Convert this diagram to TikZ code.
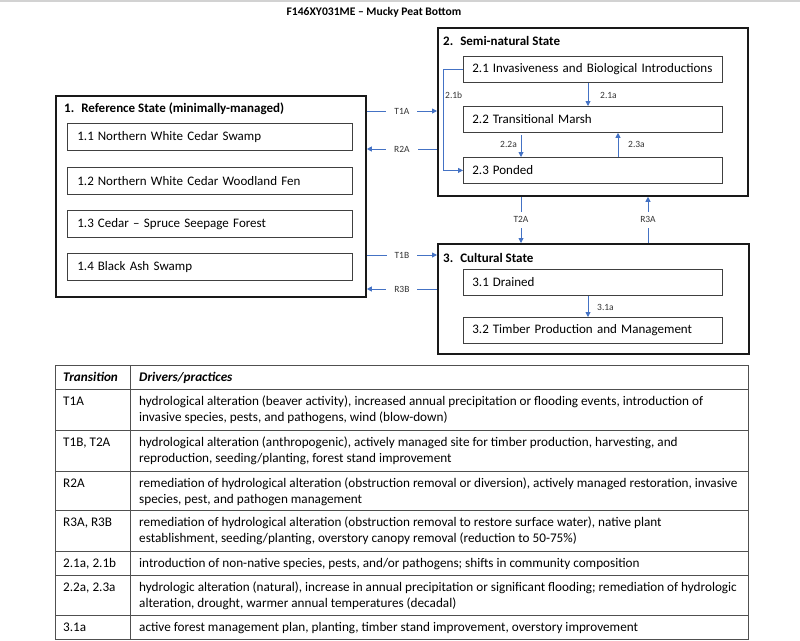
\documentclass[tikz,border=0pt]{standalone}
\usepackage{fontspec}
\setmainfont{Carlito}
\usetikzlibrary{arrows.meta}
\definecolor{arrowblue}{HTML}{4472C4}
\definecolor{boxline}{HTML}{404040}
\definecolor{tabline}{HTML}{505050}
\begin{document}
\begin{tikzpicture}[x=1pt,y=-1pt,
  statebox/.style={draw=black!90, line width=1.8pt, anchor=north west, inner sep=0pt},
  statetitle/.style={anchor=west, inner sep=0pt, font=\fontsize{13}{15}\selectfont\bfseries},
  subA/.style={draw=boxline, line width=0.8pt, anchor=north west, minimum height=27pt,
    text width=265pt, inner xsep=10pt, inner ysep=0pt, align=left, font=\fontsize{13}{15}\selectfont},
  subB/.style={draw=boxline, line width=0.8pt, anchor=north west, minimum height=26pt,
    text width=241pt, inner xsep=9pt, inner ysep=0pt, align=left, font=\fontsize{13}{15}\selectfont},
  arr/.style={draw=arrowblue, line width=0.9pt, -{Triangle[length=5pt,width=5pt]}},
  gaplbl/.style={fill=white, inner xsep=8pt, inner ysep=5pt, font=\fontsize{9.5}{10}\selectfont, text=black!80},
  lbl/.style={inner sep=0pt, font=\fontsize{9.5}{10}\selectfont, text=black!80},
  cell/.style={anchor=north west, inner sep=0pt, align=left, font=\fontsize{13.2}{16}\selectfont},
  tl/.style={draw=tabline, line width=0.8pt}
]
\useasboundingbox (0,0) rectangle (800,640);
\draw[gray!35, line width=1.5pt] (0,0.75) -- (800,0.75);

% title
\node[font=\fontsize{11.6}{14}\selectfont\bfseries, inner sep=0pt] (title) at (374,12) {F146XY031ME – Mucky Peat Bottom};

% state 1
\node[statebox, minimum width=310pt, minimum height=201pt] (st1) at (55,95) {};
\node[statetitle] (st1t) at (64,109) {1.\hspace{7pt}Reference State (minimally-managed)};
\node[subA] (s11) at (67,123) {1.1\hspace{4pt}Northern White Cedar Swamp};
\node[subA] (s12) at (67,167) {1.2\hspace{4pt}Northern White Cedar Woodland Fen};
\node[subA] (s13) at (67,210) {1.3\hspace{4pt}Cedar – Spruce Seepage Forest};
\node[subA] (s14) at (67,253) {1.4\hspace{4pt}Black Ash Swamp};

% state 2
\node[statebox, minimum width=310pt, minimum height=168pt] (st2) at (437,27) {};
\node[statetitle] (st2t) at (443,41) {2.\hspace{7pt}Semi-natural State};
\node[subB] (s21) at (463,56) {2.1\hspace{4pt}Invasiveness and Biological Introductions};
\node[subB] (s22) at (463,106) {2.2\hspace{4pt}Transitional Marsh};
\node[subB] (s23) at (463,157) {2.3\hspace{4pt}Ponded};

% state 3
\node[statebox, minimum width=311pt, minimum height=110pt] (st3) at (437,243) {};
\node[statetitle] (st3t) at (443,258) {3.\hspace{7pt}Cultural State};
\node[subB] (s31) at (463,269) {3.1\hspace{4pt}Drained};
\node[subB] (s32) at (463,317) {3.2\hspace{4pt}Timber Production and Management};

% helper coordinates
\coordinate (yT1A) at (0,111);
\coordinate (yR2A) at (0,149);
\coordinate (yT1B) at (0,255);
\coordinate (yR3B) at (0,289);
\coordinate (xT2A) at (521,0);
\coordinate (xR3A) at (648,0);
\coordinate (x21a) at (588,0);
\coordinate (x22a) at (521,0);
\coordinate (x23a) at (618,0);
\coordinate (a22start) at (521,135);

% between-state transitions
\draw[arr] (st1.east |- yT1A) -- node[gaplbl] (lT1A) {T1A} (st2.west |- yT1A);
\draw[arr] (st2.west |- yR2A) -- node[gaplbl] (lR2A) {R2A} (st1.east |- yR2A);
\draw[arr] (st1.east |- yT1B) -- node[gaplbl] (lT1B) {T1B} (st3.west |- yT1B);
\draw[arr] (st3.west |- yR3B) -- node[gaplbl] (lR3B) {R3B} (st1.east |- yR3B);
\draw[arr] (st2.south -| xT2A) -- node[gaplbl] (lT2A) {T2A} (st3.north -| xT2A);
\draw[arr] (st3.north -| xR3A) -- node[gaplbl] (lR3A) {R3A} (st2.south -| xR3A);

% within-state transitions
\draw[arr] (s21.south -| x21a) -- (s22.north -| x21a);
\node[lbl, anchor=west] (l21a) at (600,95) {2.1a};
\draw[arr] (a22start) -- (s23.north -| x22a);
\node[lbl, anchor=east] (l22a) at (517,144) {2.2a};
\draw[arr] (s23.north -| x23a) -- (s22.south -| x23a);
\node[lbl, anchor=west] (l23a) at (628,144) {2.3a};
\draw[arr] (s21.west) -- ++(-20,0) |- (s23.west);
\node[lbl, anchor=west] (l21b) at (445,95) {2.1b};
\draw[arr] (s31.south -| x21a) -- (s32.north -| x21a);
\node[lbl, anchor=west] (l31a) at (597,307) {3.1a};

% table
\draw[tl] (55,365) rectangle (748,639);
\draw[tl] (130,365) -- (130,639);
\foreach \yy in {389,430,471,510,551,575,615} {\draw[tl] (55,\yy) -- (748,\yy);}

\node[cell, font=\fontsize{13.2}{16}\selectfont\bfseries\itshape] (h1) at (63,370) {\strut Transition};
\node[cell, font=\fontsize{13.2}{16}\selectfont\bfseries\itshape] (h2) at (139,370) {\strut Drivers/practices};

\node[cell] (c1a) at (63,394) {\strut T1A};
\node[cell] (c1b) at (139,394) {\strut hydrological alteration (beaver activity), increased annual precipitation or flooding events, introduction of\\invasive species, pests, and pathogens, wind (blow-down)};
\node[cell] (c2a) at (63,435) {\strut T1B, T2A};
\node[cell] (c2b) at (139,435) {\strut hydrological alteration (anthropogenic), actively managed site for timber production, harvesting, and\\reproduction, seeding/planting, forest stand improvement};
\node[cell] (c3a) at (63,476) {\strut R2A};
\node[cell] (c3b) at (139,476) {\strut remediation of hydrological alteration (obstruction removal or diversion), actively managed restoration, invasive\\species, pest, and pathogen management};
\node[cell] (c4a) at (63,515) {\strut R3A, R3B};
\node[cell] (c4b) at (139,515) {\strut remediation of hydrological alteration (obstruction removal to restore surface water), native plant\\establishment, seeding/planting, overstory canopy removal (reduction to 50-75\%)};
\node[cell] (c5a) at (63,556) {\strut 2.1a, 2.1b};
\node[cell] (c5b) at (139,556) {\strut introduction of non-native species, pests, and/or pathogens; shifts in community composition};
\node[cell] (c6a) at (63,580) {\strut 2.2a, 2.3a};
\node[cell] (c6b) at (139,580) {\strut hydrologic alteration (natural), increase in annual precipitation or significant flooding; remediation of hydrologic\\alteration, drought, warmer annual temperatures (decadal)};
\node[cell] (c7a) at (63,620) {\strut 3.1a};
\node[cell] (c7b) at (139,620) {\strut active forest management plan, planting, timber stand improvement, overstory improvement};
\end{tikzpicture}
\end{document}
